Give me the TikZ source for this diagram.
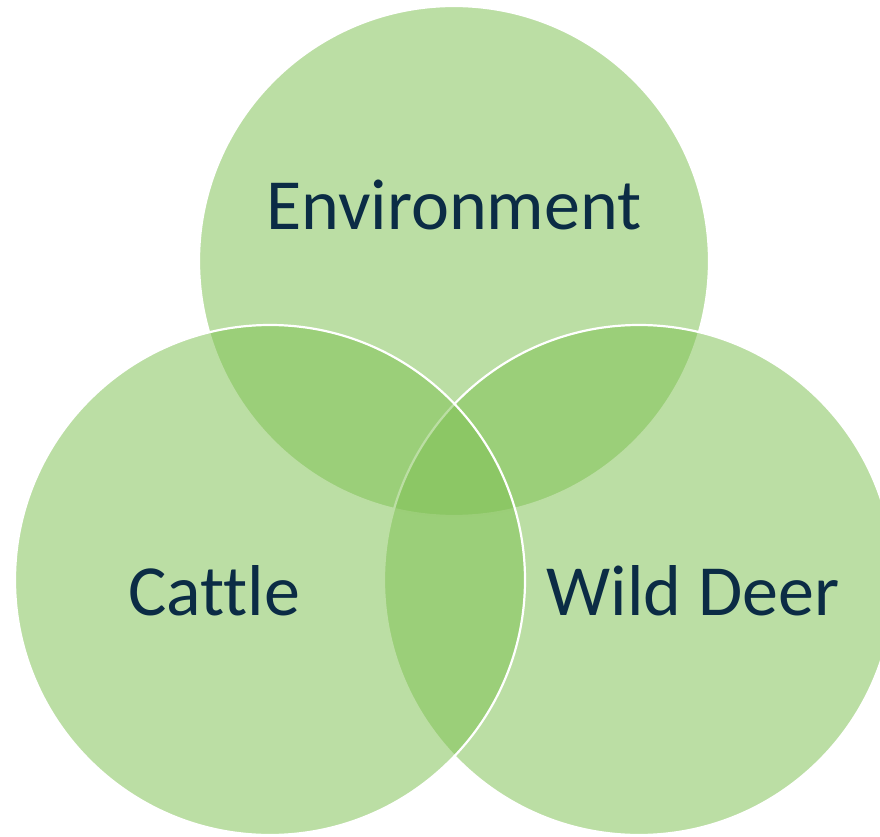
\documentclass[tikz,border=0pt]{standalone}
\usepackage{fontspec}
\setmainfont[Ligatures={NoCommon}]{Carlito}
\definecolor{vfill}{RGB}{127,193,83}
\definecolor{vtext}{RGB}{11,44,69}
\begin{document}
\begin{tikzpicture}[x=1pt,y=1pt,
  vcirc/.style={fill=vfill,fill opacity=0.53,draw=white,line width=2.2pt},
  vlabel/.style={text=vtext,font=\fontsize{72}{86}\selectfont,anchor=base,inner sep=0pt}]
\useasboundingbox (0,0) rectangle (880,836);
\coordinate (ct) at (454,575);
\coordinate (cr) at (639,256);
\coordinate (cl) at (270,256);
\path[vcirc] (ct) circle (255);
\path[vcirc] (cr) circle (255);
\path[vcirc] (cl) circle (255);
\node[vlabel] (env) at (454,606) {Environment};
\node[vlabel] (cat) at (214,221) {Cattle};
\node[vlabel] (deer) at (693,221) {Wild Deer};
\end{tikzpicture}
\end{document}
